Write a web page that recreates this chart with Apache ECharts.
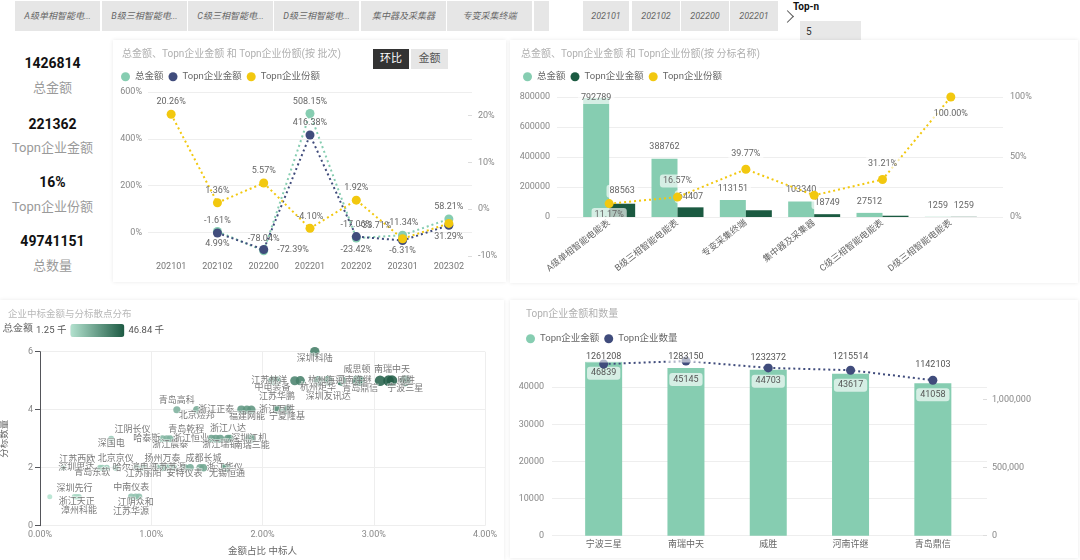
<!DOCTYPE html>
<html>
<head>
<meta charset="utf-8">
<script src="https://cdn.jsdelivr.net/npm/echarts@6.0.0/dist/echarts.min.js"></script>
<style>
  body { margin: 0; width: 1080px; height: 560px; background: #fff; position: relative; overflow: hidden;
         font-family: Roboto, "Noto Sans CJK SC", sans-serif; }
  .tab { position: absolute; top: 1px; height: 30px; background: #e6e6e6; color: #666; font-style: italic;
         font-size: 9px; line-height: 30px; text-align: center; white-space: nowrap; overflow: hidden; }
  .card { position: absolute; background: #fff; box-shadow: 0 0 4px rgba(0,0,0,0.09); }
  .kv { position: absolute; left: 0; width: 105px; text-align: center; font-weight: bold; font-size: 14px; color: #111; line-height: 16px; }
  .kl { position: absolute; left: 0; width: 105px; text-align: center; font-size: 13px; color: #9a9a9a; line-height: 16px; }
  .btn { position: absolute; top: 49px; height: 20px; line-height: 20px; text-align: center; font-size: 11px; }
</style>
</head>
<body>
<!-- slicer tabs -->
<div class="tab" style="left:15px;width:85px">A级单相智能电...</div>
<div class="tab" style="left:102px;width:85px">B级三相智能电...</div>
<div class="tab" style="left:188px;width:85px">C级三相智能电...</div>
<div class="tab" style="left:274px;width:85px">D级三相智能电...</div>
<div class="tab" style="left:361px;width:85px">集中器及采集器</div>
<div class="tab" style="left:447px;width:85px">专变采集终端</div>
<div class="tab" style="left:534px;width:15px"></div>
<div class="tab" style="left:583px;width:46px">202101</div>
<div class="tab" style="left:632px;width:48px">202102</div>
<div class="tab" style="left:681px;width:48px">202200</div>
<div class="tab" style="left:730px;width:48px">202201</div>
<div style="position:absolute;left:783px;top:12px;width:8px;height:8px;border-top:1px solid #555;border-right:1px solid #555;transform:rotate(45deg)"></div>
<div style="position:absolute;left:793px;top:1px;font-size:10px;font-weight:bold;color:#111">Top-n</div>
<div style="position:absolute;left:800px;top:21px;width:61px;height:22px;background:#e8e8e8;font-size:10px;line-height:22px;color:#333;padding-left:6px;box-sizing:border-box">5</div>
<div style="position:absolute;left:834px;top:59px;width:162px;height:3px;background:#e8e8e8"></div>
<div style="position:absolute;left:814px;top:51px;width:21px;height:21px;box-sizing:border-box;border:2.5px solid #2d6a53;border-radius:50%;background:#fff"></div>

<!-- KPI cards -->
<div class="kv" style="top:55px">1426814</div>
<div class="kl" style="top:80px">总金额</div>
<div class="kv" style="top:116px">221362</div>
<div class="kl" style="top:140px">Topn企业金额</div>
<div class="kv" style="top:174px">16%</div>
<div class="kl" style="top:199px">Topn企业份额</div>
<div class="kv" style="top:233px">49741151</div>
<div class="kl" style="top:258px">总数量</div>

<div id="c1" class="card" style="left:113px;top:40px;width:393px;height:242px"></div>
<div class="btn" style="left:373px;width:36px;background:#333;color:#fff">环比</div>
<div class="btn" style="left:411px;width:37px;background:#e6e6e6;color:#555">金额</div>
<div id="c2" class="card" style="left:510px;top:40px;width:568px;height:243px"></div>
<div id="c3" class="card" style="left:0px;top:300px;width:504px;height:260px"></div>
<div id="c4" class="card" style="left:510px;top:300px;width:568px;height:258px"></div>

<script>
// ---- data: month-on-month by batch ----
const periods = ['202101', '202102', '202200', '202201', '202202', '202301', '202302'];
const totalMoM = [null, 4.99, -78.04, 508.15, -23.42, -11.34, 58.21];
const topnMoM = [null, -1.61, -72.39, 416.38, -17.06, -33.71, 31.29];
const shareMoM = [20.26, 1.36, 5.57, -4.10, 1.92, -6.31, -3.05];

// ---- data: by lot name ----
const lots = ['A级单相智能电能表', 'B级三相智能电能表', '专变采集终端', '集中器及采集器', 'C级三相智能电能表', 'D级三相智能电能表'];
const lotTotal = [792789, 388762, 113151, 103340, 27512, 1259];
const lotTopn = [88563, 64407, 45000, 18749, 8587, 1259];
const lotShare = [11.17, 16.57, 39.77, 18.14, 31.21, 100.00];

// ---- data: top-n firms ----
const topFirms = ['宁波三星', '南瑞中天', '威胜', '河南许继', '青岛鼎信'];
const firmAmount = [46839, 45145, 44703, 43617, 41058];
const firmCount = [1261208, 1283150, 1232372, 1215514, 1142103];

// ---- data: bidder scatter ----
const grandTotal = 1426814;
const bidders = ['深圳科陆',
  '中电装备', '江苏华鹏', '江苏林洋', '杭州海兴', '杭州炬华', '深圳友讯达', '', '威思顿', '青岛鼎信', '河南许继', '威胜', '南瑞中天', '宁波三星',
  '青岛高科', '北京煜邦', '浙江正泰', '福建网能', '', '浙江万胜', '宁夏隆基',
  '深国电', '江阴长仪', '哈泰斯', '浙江晨泰', '青岛乾程', '浙江恒业', '浙江瑞银', '浙江八达', '', '深圳江机', '南瑞三能',
  '江苏西欧', '深圳思达', '青岛东软', '哈尔滨电表', '北京京仪', '', '江苏丽阳', '', '扬州万泰', '江苏苏源', '', '安特仪表', '', '', '成都长城', '浙江华仪', '无锡恒通',
  '', '深圳先行', '浙江天正', '漳州科能', '中南仪表', '江阴众和', '江苏华源'];
const bidAmount = [35242,
  29820, 30391, 32674, 33387, 35670, 36954, 38667, 40664, 41058, 43617, 44703, 45145, 46839,
  17550, 20118, 25825, 26539, 27109, 30410, 31675,
  9132, 15695, 16266, 16694, 21973, 22544, 23114, 24113, 24399, 26824, 27150,
  2996, 7705, 7990, 8561, 9702, 12413, 13269, 14981, 15700, 16408, 17122, 18548, 19262, 20546, 20974, 23685, 23970,
  1253, 4423, 4708, 4994, 11700, 12270, 12699];
const bidLots = [6,
  5, 5, 5, 5, 5, 5, 5, 5, 5, 5, 5, 5, 5,
  4, 4, 4, 4, 4, 4, 4,
  3, 3, 3, 3, 3, 3, 3, 3, 3, 3, 3,
  2, 2, 2, 2, 2, 2, 2, 2, 2, 2, 2, 2, 2, 2, 2, 2, 2,
  1, 1, 1, 1, 1, 1, 1];

// label placement (style only)
const bidLabelPos = ['b',
  'b', 'B', 'l', 'r', 'b', 'B', 'n', 't', 'b', 'l', 'r', 't', 'b',
  't', 'b', 'l', 'b', 'n', 'c', 'b',
  'b', 't', 'l', 'b', 't', 'l', 'b', 't', 'n', 'c', 'b',
  't', 'l', 'b', 'r', 't', 'n', 'b', 'n', 't', 'c', 'n', 'b', 'n', 'n', 't', 'c', 'b',
  'n', 't', 'b', 'B', 't', 'b', 'B'];
const labelShift = { '江阴长仪': [-30, 0], '青岛乾程': [-25, 0], '江苏西欧': [14, 0], '青岛东软': [-10, 0], '江苏华源': [-8, 0] };

const FONT = 'Roboto, "Noto Sans CJK SC", sans-serif';
const GREEN = '#86cdb1', NAVY = '#404c7c', YELLOW = '#f2c80f', DARK = '#1b5a41';
const box = { backgroundColor: 'rgba(255,255,255,0.65)', padding: [2, 3], borderRadius: 3 };

function withLabels(vals, pos, fmt) {
  return vals.map((v, i) => {
    if (v == null) return '-';
    const p = pos[i];
    if (!p) return { value: v, label: { show: false } };
    return { value: v, label: Object.assign({ show: true, formatter: fmt }, p) };
  });
}
const pct = p => p.value.toFixed(2) + '%';
const plain = v => String(v);

// ================= chart 1 =================
const c1 = echarts.init(document.getElementById('c1'));
const T = { position: 'top', distance: 3 }, B = { position: 'bottom', distance: 3 };
c1.setOption({
  animation: false,
  textStyle: { fontFamily: FONT },
  title: { text: '总金额、Topn企业金额 和 Topn企业份额(按 批次)', left: 4, top: 5,
           textStyle: { fontSize: 10, color: '#b0b0b0', fontWeight: 'normal' } },
  legend: { left: 3, top: 27, icon: 'circle', itemWidth: 9, itemHeight: 9, itemGap: 5,
            textStyle: { fontSize: 9.5, color: '#666' } },
  grid: { left: 35, right: 34, top: 52, bottom: 26, outerBoundsMode: 'none' },
  xAxis: { type: 'category', data: periods, axisLine: { show: false }, axisTick: { show: false },
           axisLabel: { fontSize: 9, color: '#777', margin: 6 } },
  yAxis: [
    { type: 'value', min: -100, max: 600, minInterval: 200, maxInterval: 200, splitNumber: 4,
      axisLabel: { fontSize: 9, color: '#888', margin: 6, showMinLabel: false,
                   formatter: v => v < 0 ? '' : v + '%' },
      splitLine: { showMinLine: false, lineStyle: { color: '#eeeeee' } } },
    { type: 'value', min: -10, max: 25, minInterval: 10, maxInterval: 10, splitNumber: 3,
      splitLine: { show: false },
      axisTick: { show: true, inside: true, length: 4, lineStyle: { color: '#ddd' } },
      axisLabel: { fontSize: 9, color: '#888', margin: 6, showMaxLabel: false,
                   formatter: v => v === 25 ? '' : v + '%' } }
  ],
  series: [
    { name: '总金额', type: 'line', yAxisIndex: 0, color: GREEN, symbol: 'circle', symbolSize: 9,
      lineStyle: { type: [2, 3], width: 2 },
      label: { fontSize: 9, color: '#666' },
      data: withLabels(totalMoM, [null, B, T, T, B, T, T], pct) },
    { name: 'Topn企业金额', type: 'line', yAxisIndex: 0, color: NAVY, symbol: 'circle', symbolSize: 9,
      lineStyle: { type: [2, 3], width: 2 },
      label: { fontSize: 9, color: '#666' },
      data: withLabels(topnMoM, [null, T, { position: 'right', distance: 9 }, T, T,
                                 { position: 'top', distance: 3, offset: [-27, -3] }, B], pct) },
    { name: 'Topn企业份额', type: 'line', yAxisIndex: 1, color: YELLOW, symbol: 'circle', symbolSize: 9,
      lineStyle: { type: [2, 3], width: 2 },
      label: { fontSize: 9, color: '#666' },
      data: withLabels(shareMoM, [T, T, T, T, T, B, null], pct) }
  ]
});

// ================= chart 2 =================
const c2 = echarts.init(document.getElementById('c2'));
const lb = Object.assign({ fontSize: 9, color: '#666' }, box);
c2.setOption({
  animation: false,
  textStyle: { fontFamily: FONT },
  title: { text: '总金额、Topn企业金额 和 Topn企业份额(按 分标名称)', left: 6, top: 5,
           textStyle: { fontSize: 10, color: '#b0b0b0', fontWeight: 'normal' } },
  legend: { left: 8, top: 27, icon: 'circle', itemWidth: 9, itemHeight: 9, itemGap: 5,
            textStyle: { fontSize: 9.5, color: '#666' } },
  grid: [
    { left: 47, right: 75, top: 57, bottom: 66, outerBoundsMode: 'none' },
    { left: 65, right: 93, top: 57, bottom: 66, outerBoundsMode: 'none' }
  ],
  xAxis: [
    { gridIndex: 0, type: 'category', data: lots, show: false },
    { gridIndex: 1, type: 'category', data: lots, axisLine: { show: false }, axisTick: { show: false },
      axisLabel: { interval: 0, rotate: 38, fontSize: 9, color: '#666', margin: 5 } }
  ],
  yAxis: [
    { gridIndex: 0, type: 'value', min: 0, max: 800000, interval: 200000,
      axisLabel: { fontSize: 9, color: '#888', margin: 7, formatter: plain },
      splitLine: { lineStyle: { color: '#eeeeee' } } },
    { gridIndex: 0, type: 'value', min: 0, max: 100, interval: 50, splitLine: { show: false },
      axisLabel: { fontSize: 9, color: '#888', margin: 7, formatter: '{value}%' } },
    { gridIndex: 1, type: 'value', min: 0, max: 800000, show: false, splitLine: { show: false } },
    { gridIndex: 1, type: 'value', min: 0, max: 100, show: false, splitLine: { show: false } }
  ],
  series: [
    { name: '总金额', type: 'bar', xAxisIndex: 1, yAxisIndex: 2, color: GREEN, barWidth: 26, barGap: '0%',
      label: Object.assign({ position: 'top' }, lb),
      data: withLabels(lotTotal, [{ distance: -6 }, { distance: 5 }, { distance: 5 }, { distance: 5 }, { distance: 5 }, { distance: 5 }],
                       p => p.value) },
    { name: 'Topn企业金额', type: 'bar', xAxisIndex: 1, yAxisIndex: 2, color: DARK, barWidth: 26,
      label: Object.assign({ position: 'top' }, lb),
      data: withLabels(lotTopn, [{ distance: 6 }, { distance: 4 }, null, { distance: 5 }, null, { distance: 5 }],
                       p => p.value) },
    { name: 'Topn企业份额', type: 'line', xAxisIndex: 1, yAxisIndex: 3, color: YELLOW, symbol: 'circle', symbolSize: 9,
      lineStyle: { type: [2, 3], width: 2 },
      label: lb,
      data: withLabels(lotShare, [{ position: 'bottom', distance: 0 }, { position: 'top', distance: 5 },
                                  { position: 'top', distance: 5 }, null, { position: 'top', distance: 5 },
                                  { position: 'bottom', distance: 6 }], pct) }
  ]
});

// ================= chart 3 =================
const c3 = echarts.init(document.getElementById('c3'));
const posMap = {
  t: { position: 'top', distance: 1 }, b: { position: 'bottom', distance: -2 }, B: { position: 'bottom', distance: 7 },
  l: { position: 'left', distance: 3 }, r: { position: 'right', distance: 3 }, c: { position: 'inside' }
};
const scatterData = bidders.map((name, i) => {
  const code = bidLabelPos[i];
  const label = code === 'n' ? { show: false } : Object.assign({ show: true }, posMap[code]);
  if (labelShift[name]) label.offset = labelShift[name];
  return { name: name, value: [bidAmount[i] / grandTotal * 100, bidLots[i], bidAmount[i]], label: label };
});
c3.setOption({
  animation: false,
  textStyle: { fontFamily: FONT },
  title: { text: '企业中标金额与分标散点分布', left: 3, top: 5,
           textStyle: { fontSize: 9.5, color: '#b8b8b8', fontWeight: 'normal' } },
  graphic: [{ type: 'text', left: 3, top: 23, style: { text: '总金额', fontSize: 10, fill: '#555', font: '10px ' + FONT } }],
  visualMap: [
    { type: 'continuous', orient: 'horizontal', left: 21, top: 9, min: 1253, max: 46839, dimension: 2,
      seriesIndex: 0, calculable: false, itemWidth: 13, itemHeight: 54, textGap: 4,
      text: ['46.84 千', '1.25 千'], textStyle: { fontSize: 9.5, color: '#555' },
      inRange: { color: ['#b3e2cf', '#1d5a43'] } },
    { type: 'continuous', show: false, min: 1253, max: 46839, dimension: 2, seriesIndex: 0,
      inRange: { symbolSize: [5, 11] } }
  ],
  grid: { left: 40, right: 19, top: 51.7, bottom: 34.3, outerBoundsMode: 'none' },
  xAxis: { type: 'value', min: 0, max: 4, interval: 1, name: '金额占比 中标人', nameLocation: 'middle', nameGap: 21,
           nameTextStyle: { fontSize: 9.5, color: '#666' },
           axisLine: { show: false }, axisTick: { show: false },
           axisLabel: { fontSize: 9, color: '#888', margin: 5, formatter: v => v.toFixed(2) + '%' },
           splitLine: { lineStyle: { color: '#eeeeee' } } },
  yAxis: { type: 'value', min: 0, max: 6, interval: 2, name: '分标数量', nameLocation: 'middle', nameGap: 31,
           nameTextStyle: { fontSize: 9.5, color: '#666' },
           axisLabel: { fontSize: 9, color: '#888', margin: 7 },
           splitLine: { lineStyle: { color: '#eeeeee' } } },
  series: [{
    type: 'scatter', itemStyle: { opacity: 0.88 },
    label: { fontSize: 9, color: '#666', formatter: '{b}', textBorderColor: 'rgba(255,255,255,0.7)', textBorderWidth: 1.5 },
    data: scatterData
  }]
});

// ================= chart 4 =================
const c4 = echarts.init(document.getElementById('c4'));
const lineDist = [-3, -6, 0, 3, 5];
c4.setOption({
  animation: false,
  textStyle: { fontFamily: FONT },
  title: { text: 'Topn企业金额和数量', left: 11, top: 5,
           textStyle: { fontSize: 10, color: '#b0b0b0', fontWeight: 'normal' } },
  legend: { left: 11, top: 29, icon: 'circle', itemWidth: 9, itemHeight: 9, itemGap: 5,
            textStyle: { fontSize: 9.5, color: '#666' } },
  grid: [
    { left: 42, right: 91, top: 50, bottom: 22.3, outerBoundsMode: 'none' },
    { left: 52.5, right: 104, top: 50, bottom: 22.3, outerBoundsMode: 'none' }
  ],
  xAxis: [
    { gridIndex: 0, type: 'category', data: topFirms, show: false },
    { gridIndex: 1, type: 'category', data: topFirms, axisLine: { show: false }, axisTick: { show: false },
      axisLabel: { fontSize: 9, color: '#666', margin: 5 } }
  ],
  yAxis: [
    { gridIndex: 0, type: 'value', min: 0, max: 50000, interval: 10000,
      axisLabel: { fontSize: 9, color: '#888', margin: 8, showMaxLabel: false, formatter: plain },
      splitLine: { showMaxLine: false, lineStyle: { color: '#eeeeee' } } },
    { gridIndex: 0, type: 'value', min: 0, max: 1364000, interval: 500000, splitLine: { show: false },
      axisTick: { show: true, inside: true, length: 4, lineStyle: { color: '#ddd' } },
      axisLabel: { fontSize: 9, color: '#888', margin: 5, showMaxLabel: false,
                   formatter: v => v >= 1364000 ? '' : v.toLocaleString('en-US') } },
    { gridIndex: 1, type: 'value', min: 0, max: 50000, show: false, splitLine: { show: false } },
    { gridIndex: 1, type: 'value', min: 0, max: 1364000, show: false, splitLine: { show: false } }
  ],
  series: [
    { name: 'Topn企业金额', type: 'bar', xAxisIndex: 1, yAxisIndex: 2, color: GREEN, barWidth: 37,
      label: Object.assign({ show: true, position: 'insideTop', distance: 5, fontSize: 9, color: '#555' }, box,
                           { padding: [2, 4] }),
      data: firmAmount },
    { name: 'Topn企业数量', type: 'line', xAxisIndex: 1, yAxisIndex: 3, color: NAVY, symbol: 'circle', symbolSize: 9,
      lineStyle: { type: [2, 3], width: 2 },
      data: firmCount.map((v, i) => ({ value: v,
        label: Object.assign({ show: true, position: 'top', distance: lineDist[i], fontSize: 9, color: '#555' },
                             { backgroundColor: 'rgba(255,255,255,0.6)', padding: [1, 2], borderRadius: 3 }) })) }
  ]
});
</script>
</body>
</html>
